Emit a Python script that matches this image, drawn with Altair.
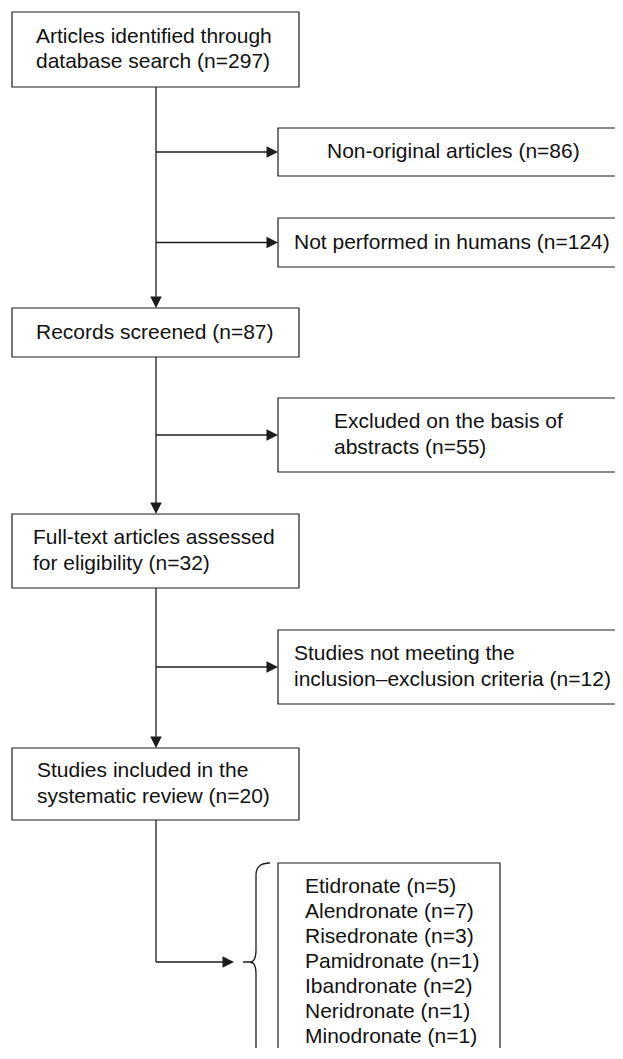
import altair as alt
import pandas as pd

# ---------------- content ----------------
main_stages = [
    ["Articles identified through", "database search"],
    ["Records screened"],
    ["Full-text articles assessed", "for eligibility"],
    ["Studies included in the", "systematic review"],
]
main_n = [297, 87, 32, 20]

excluded_stages = [
    ["Non-original articles"],
    ["Not performed in humans"],
    ["Excluded on the basis of", "abstracts"],
    ["Studies not meeting the", "inclusion\u2013exclusion criteria"],
]
excluded_n = [86, 124, 55, 12]

drugs = ["Etidronate", "Alendronate", "Risedronate", "Pamidronate",
         "Ibandronate", "Neridronate", "Minodronate"]
drug_n = [5, 7, 3, 1, 2, 1, 1]

# ---------------- layout (pixel frame of the 623 x 1059 figure) ----------------
MAIN_X = (12, 299)
SIDE_X = (278, 640)
main_top = [12, 308, 514, 748]
main_bottom = [87, 357, 588, 820]
main_text_x = [36, 36, 33, 37]
side_top = [128, 218, 398, 630]
side_bottom = [176, 267, 472, 704]
side_text_x = [327, 294, 334, 294]
LIST_BOX = (278, 500, 863, 1075)
LIST_CENTER = 962
LIST_TEXT_X = 305
SPINE_X = 156
ARROW_END_X = 234
BRACE_TIP_X = 243
LINE = 25.5
LIST_LINE = 25
FONT = "Liberation Sans"
FS = 21
INK = "#1c1c1c"
W, H = 607, 1040

# ---------------- build tables ----------------
boxes, texts, rules, arrows_r, arrows_d = [], [], [], [], []

for i, (lines, n) in enumerate(zip(main_stages, main_n)):
    boxes.append(dict(x=MAIN_X[0], x2=MAIN_X[1], y=main_top[i], y2=main_bottom[i]))
    lines = lines[:-1] + [f"{lines[-1]} (n={n})"]
    c = (main_top[i] + main_bottom[i]) / 2
    for j, t in enumerate(lines):
        texts.append(dict(x=main_text_x[i], y=c + (j - (len(lines) - 1) / 2) * LINE, t=t))

for i, (lines, n) in enumerate(zip(excluded_stages, excluded_n)):
    boxes.append(dict(x=SIDE_X[0], x2=SIDE_X[1], y=side_top[i], y2=side_bottom[i]))
    lines = lines[:-1] + [f"{lines[-1]} (n={n})"]
    c = (side_top[i] + side_bottom[i]) / 2
    for j, t in enumerate(lines):
        texts.append(dict(x=side_text_x[i], y=c + (j - (len(lines) - 1) / 2) * LINE, t=t))
    rules.append(dict(x=SPINE_X, x2=SIDE_X[0] - 4, y=c, y2=c))
    arrows_r.append(dict(x=SIDE_X[0], y=c))

for i in range(len(main_stages) - 1):
    rules.append(dict(x=SPINE_X, x2=SPINE_X, y=main_bottom[i], y2=main_top[i + 1] - 4))
    arrows_d.append(dict(x=SPINE_X, y=main_top[i + 1]))

# final connector to the list
rules.append(dict(x=SPINE_X, x2=SPINE_X, y=main_bottom[-1], y2=LIST_CENTER))
rules.append(dict(x=SPINE_X, x2=ARROW_END_X - 4, y=LIST_CENTER, y2=LIST_CENTER))
arrows_r.append(dict(x=ARROW_END_X, y=LIST_CENTER))

boxes.append(dict(x=LIST_BOX[0], x2=LIST_BOX[1], y=LIST_BOX[2], y2=LIST_BOX[3]))
for i, (d, n) in enumerate(zip(drugs, drug_n)):
    texts.append(dict(x=LIST_TEXT_X, y=LIST_CENTER + (i - (len(drugs) - 1) / 2) * LIST_LINE,
                      t=f"{d} (n={n})"))

brace = pd.DataFrame([dict(x=BRACE_TIP_X, y=LIST_CENTER)])

# ---------------- scales (identity with the 8px page margin) ----------------
xs = alt.Scale(domain=[8, 8 + W], nice=False, zero=False)
ys = alt.Scale(domain=[8, 8 + H], nice=False, zero=False, reverse=True)

def X(f="x"):
    return alt.X(f"{f}:Q", scale=xs, axis=None)

def Y(f="y"):
    return alt.Y(f"{f}:Q", scale=ys, axis=None)

box_layer = alt.Chart(pd.DataFrame(boxes)).mark_rect(
    fill="white", stroke=INK, strokeWidth=1.2
).encode(x=X(), x2="x2:Q", y=Y(), y2="y2:Q")

rule_layer = alt.Chart(pd.DataFrame(rules)).mark_rule(
    color=INK, strokeWidth=1.3
).encode(x=X(), x2="x2:Q", y=Y(), y2="y2:Q")

arrow_right = alt.Chart(pd.DataFrame(arrows_r)).mark_point(
    shape="M0,0L-1,-0.5L-1,0.5Z", size=529, filled=True, color=INK, opacity=1
).encode(x=X(), y=Y())

arrow_down = alt.Chart(pd.DataFrame(arrows_d)).mark_point(
    shape="M0,0L-0.5,-1L0.5,-1Z", size=529, filled=True, color=INK, opacity=1
).encode(x=X(), y=Y())

brace_path = ("M0.2755,-1.0102Q0.1327,-1.0102,0.1327,-0.8878L0.1327,-0.1224"
              "Q0.1327,0,0.0714,0L0,0M0.0714,0Q0.1327,0,0.1327,0.1224"
              "L0.1327,0.8878Q0.1327,1.0102,0.2755,1.0102")
brace_layer = alt.Chart(brace).mark_point(
    shape=brace_path, size=196 ** 2, filled=False, stroke=INK, strokeWidth=1.3, opacity=1
).encode(x=X(), y=Y())

text_layer = alt.Chart(pd.DataFrame(texts)).mark_text(
    align="left", baseline="middle", font=FONT, fontSize=FS, color="#111111"
).encode(x=X(), y=Y(), text="t:N")

chart = alt.layer(
    box_layer, rule_layer, arrow_right, arrow_down, brace_layer, text_layer
).properties(
    width=W, height=H, padding=0, autosize=alt.AutoSizeParams(type="none"),
    background="white"
).configure_view(stroke=None)

chart.save("out.html", embed_options={"renderer": "svg", "actions": False})
